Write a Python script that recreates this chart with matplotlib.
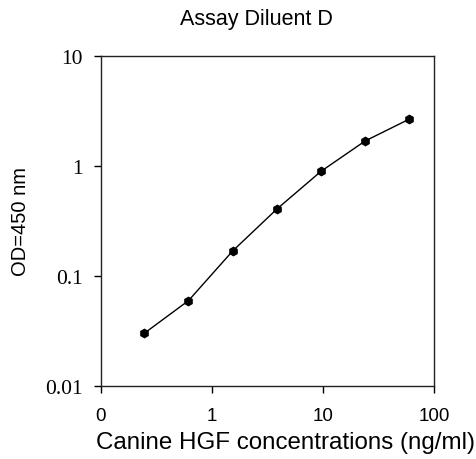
import matplotlib
matplotlib.use("Agg")
import matplotlib.pyplot as plt
from matplotlib.ticker import FixedLocator, FixedFormatter, NullLocator

# standard curve, 2.5-fold dilution series
conc = [0.246, 0.614, 1.536, 3.84, 9.6, 24.0, 60.0]
od = [0.0302, 0.0597, 0.169, 0.406, 0.895, 1.69, 2.67]

xticks = [0.1, 1, 10, 100]
xlabels = ["0", "1", "10", "100"]
yticks = [0.01, 0.1, 1, 10]
ylabels = ["0.01", "0.1", "1", "10"]

fig = plt.figure(figsize=(4.76, 4.60), dpi=100)
ax = fig.add_axes([101/476, 1-387/460, 333/476, 330/460])

ax.plot(conc, od, color="black", linewidth=1, marker="h", markersize=6,
        markerfacecolor="black", markeredgecolor="black")

ax.set_xscale("log")
ax.set_yscale("log")
ax.set_xlim(0.1, 100)
ax.set_ylim(0.01, 10)

ax.xaxis.set_major_locator(FixedLocator(xticks))
ax.xaxis.set_major_formatter(FixedFormatter(xlabels))
ax.xaxis.set_minor_locator(NullLocator())
ax.yaxis.set_major_locator(FixedLocator(yticks))
ax.yaxis.set_major_formatter(FixedFormatter(ylabels))
ax.yaxis.set_minor_locator(NullLocator())

ax.tick_params(axis="both", direction="out", length=5, width=1, color="black")
ax.tick_params(axis="x", pad=10)
ax.tick_params(axis="y", pad=8)
for lab in ax.get_xticklabels():
    lab.set_family("Liberation Sans")
    lab.set_fontsize(13.5)
for lab in ax.get_yticklabels():
    lab.set_family("Liberation Serif")
    lab.set_fontsize(15.5)

for sp in ax.spines.values():
    sp.set_linewidth(1)
    sp.set_color("#222222")

ax.set_xlabel("Canine HGF concentrations (ng/ml)", family="Liberation Sans",
              fontsize=17.4)
ax.xaxis.set_label_coords(0.553, -0.135)
ax.set_ylabel("OD=450 nm", family="Liberation Sans", fontsize=14.5, labelpad=11)
fig.text(256/476, 1-19/460, "Assay Diluent D", family="Liberation Sans",
         fontsize=15.5, ha="center", va="center")

fig.savefig("out.png", dpi=100)
